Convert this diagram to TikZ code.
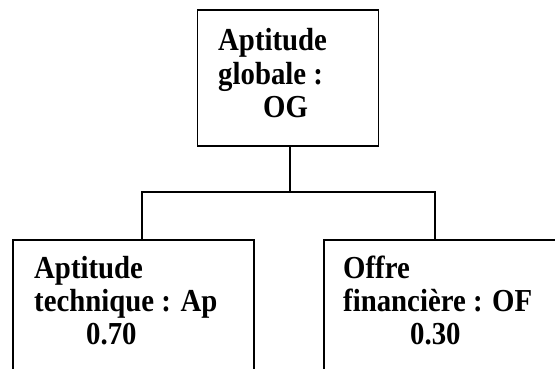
\documentclass[tikz,border=0pt]{standalone}
\usepackage{fontspec}
\setmainfont{Liberation Serif}
% bold text, set tall and slightly narrowed
\newcommand\narrowtxt[1]{\scalebox{0.9}[1]{#1}}
\begin{document}
\begin{tikzpicture}[x=1pt,y=-1pt,
  box/.style={draw,line width=1.3pt,rectangle,inner sep=0pt},
  lbl/.style={anchor=base west,inner sep=0pt,font=\fontsize{32}{35}\selectfont\bfseries},
  link/.style={line width=1.3pt}]
  \useasboundingbox (0,0) rectangle (555,368);
  \clip (0,0) rectangle (555,368);
  % boxes
  \node[box,minimum width=181pt,minimum height=136pt] (top) at (288,78) {};
  \node[box,minimum width=241pt,minimum height=180pt] (left) at (133.5,330) {};
  \node[box,minimum width=250pt,minimum height=180pt] (right) at (449,330) {};
  % texts
  \node[lbl] (t1) at (218,50) {\narrowtxt{Aptitude}};
  \node[lbl] (t2) at (218,84) {\narrowtxt{globale :}};
  \node[lbl] (t3) at (263,117) {\narrowtxt{OG}};
  \node[lbl] (l1) at (34,278) {\narrowtxt{Aptitude}};
  \node[lbl] (l2) at (34,311) {\narrowtxt{technique : Ap}};
  \node[lbl] (l3) at (86,344) {\narrowtxt{0.70}};
  \node[lbl] (r1) at (343,278) {\narrowtxt{Offre}};
  \node[lbl] (r2) at (343,311) {\narrowtxt{financière : OF}};
  \node[lbl] (r3) at (410,344) {\narrowtxt{0.30}};
  % connectors
  \coordinate (split) at (290,192);
  \coordinate (jl) at (142,192);
  \coordinate (jr) at (435,192);
  \draw[link] (split |- top.south) -- (split);
  \draw[link] (jl |- left.north) -- (jl) -- (jr) -- (jr |- right.north);
\end{tikzpicture}
\end{document}
